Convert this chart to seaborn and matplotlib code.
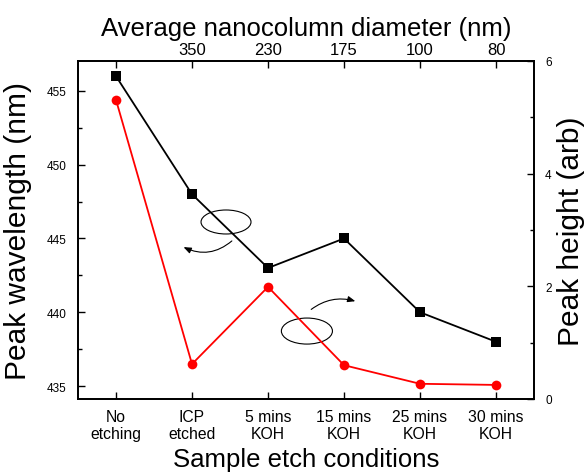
import numpy as np
import pandas as pd
import matplotlib
matplotlib.use("Agg")
import matplotlib.pyplot as plt
from matplotlib.patches import Ellipse, FancyArrowPatch
from matplotlib.ticker import MultipleLocator
import seaborn as sns

categories = ["No\netching", "ICP\netched", "5 mins\nKOH", "15 mins\nKOH", "25 mins\nKOH", "30 mins\nKOH"]
peak_wavelength = [456.0, 448.0, 443.0, 445.0, 440.0, 438.0]
peak_height = [5.31, 0.62, 1.99, 0.60, 0.27, 0.25]
diameter_labels = ["", "350", "230", "175", "100", "80"]

sns.set_theme(style="ticks")
plt.rcParams["font.family"] = ["Liberation Sans", "DejaVu Sans"]
plt.rcParams["text.color"] = "black"
plt.rcParams["axes.labelcolor"] = "black"
plt.rcParams["xtick.color"] = "black"
plt.rcParams["ytick.color"] = "black"
plt.rcParams["axes.edgecolor"] = "black"

pos = list(range(len(categories)))
df = pd.DataFrame({"pos": pos, "wl": peak_wavelength, "ph": peak_height})

fig = plt.figure(figsize=(5.84, 4.77), dpi=100)
ax = fig.add_axes([78 / 584, 77 / 477, 456 / 584, 338 / 477])
ax2 = ax.twinx()
ax3 = ax.twiny()

sns.lineplot(data=df, x="pos", y="wl", ax=ax, color="black", marker="s",
             markersize=6.5, markeredgewidth=0, linewidth=1.3, zorder=3)
sns.lineplot(data=df, x="pos", y="ph", ax=ax2, color="#ff0000", marker="o",
             markersize=7, markeredgewidth=0, linewidth=1.3, zorder=3)

for a in (ax, ax2, ax3):
    a.set_xlim(-0.5, 5.5)
    for s in a.spines.values():
        s.set_linewidth(1.1)
        s.set_color("black")

ax.set_ylim(434.12, 457.03)
ax.yaxis.set_major_locator(MultipleLocator(5))
ax.yaxis.set_minor_locator(MultipleLocator(2.5))
ax2.set_ylim(0, 6)
ax2.yaxis.set_major_locator(MultipleLocator(2))
ax2.yaxis.set_minor_locator(MultipleLocator(1))

ax.set_xticks(pos)
ax.set_xticklabels(categories, fontsize=11.3)
ax3.set_xticks(pos)
ax3.set_xticklabels(diameter_labels, fontsize=12)

ax.tick_params(axis="x", direction="in", length=5, width=1, pad=7, colors="black")
ax.tick_params(axis="y", which="major", direction="in", length=5, width=1, pad=8, labelsize=8.5, colors="black")
ax.tick_params(axis="y", which="minor", direction="in", length=3, width=1, colors="black")
ax2.tick_params(axis="y", which="major", direction="in", length=5, width=1, pad=8, labelsize=8.5, colors="black")
ax2.tick_params(axis="y", which="minor", direction="in", length=3, width=1, colors="black")
ax3.tick_params(axis="x", direction="in", length=5, width=1, pad=3, colors="black")

ax.set_xlabel("Sample etch conditions", fontsize=18.5, labelpad=4, color="black")
ax.set_ylabel("Peak wavelength (nm)", fontsize=21.5, labelpad=11, color="black")
ax2.set_ylabel("Peak height (arb)", fontsize=21.5, labelpad=4, color="black")
ax3.set_xlabel("Average nanocolumn diameter (nm)", fontsize=18.5, labelpad=5, color="black")

ax.grid(False); ax2.grid(False); ax3.grid(False)

# annotation ellipses and arrows (axes fraction)
e1 = Ellipse((0.3246, 0.5237), 0.1096, 0.071, transform=ax.transAxes,
             fill=False, edgecolor="black", linewidth=0.8, zorder=4)
e2 = Ellipse((0.502, 0.201), 0.112, 0.077, transform=ax.transAxes,
             fill=False, edgecolor="black", linewidth=0.8, zorder=4)
ax.add_patch(e1)
ax.add_patch(e2)
a1 = FancyArrowPatch((0.342, 0.473), (0.226, 0.453), transform=ax.transAxes,
                     connectionstyle="arc3,rad=-0.35",
                     arrowstyle="-|>,head_length=0.5,head_width=0.2",
                     mutation_scale=9, color="black", linewidth=0.8, zorder=4)
a2 = FancyArrowPatch((0.5066, 0.260), (0.614, 0.287), transform=ax.transAxes,
                     connectionstyle="arc3,rad=-0.27",
                     arrowstyle="-|>,head_length=0.5,head_width=0.2",
                     mutation_scale=9, color="black", linewidth=0.8, zorder=4)
ax.add_patch(a1)
ax.add_patch(a2)

fig.savefig("out.png", dpi=100)
